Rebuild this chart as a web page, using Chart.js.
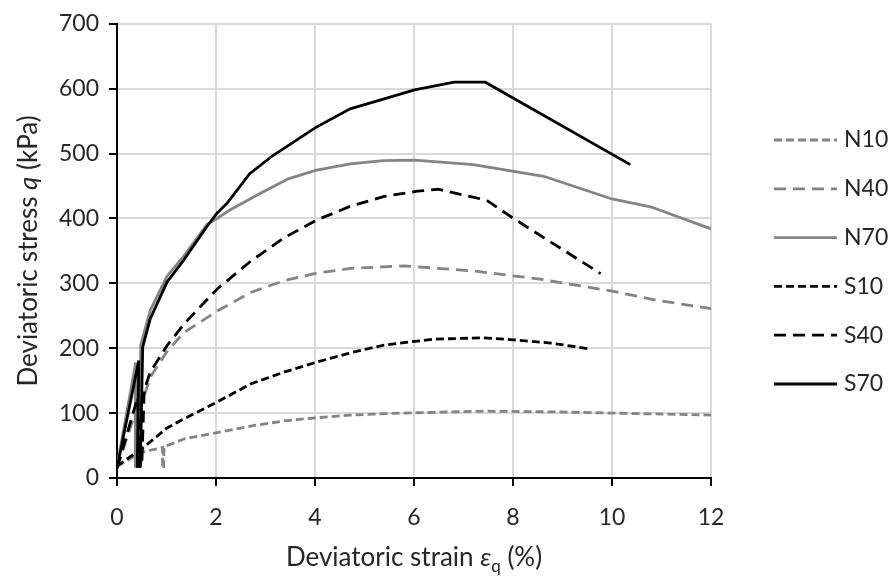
<!DOCTYPE html>
<html>
<head>
<meta charset="utf-8">
<script src="https://cdn.jsdelivr.net/npm/chart.js@4/dist/chart.umd.min.js"></script>
<style>
  html, body { margin: 0; padding: 0; background: #fff; }
  #chart { display: block; }
</style>
</head>
<body>
<canvas id="chart" width="892" height="576"></canvas>
<script>
// séries: deformação desviadora (%) x tensão desviadora (kPa)
const seriesNames = ['N10', 'N40', 'N70', 'S10', 'S40', 'S70'];

const n10Strain = [0, 0.5, 0.87, 0.92, 0.92, 0.94, 0.95, 1.35, 2.02, 2.7, 3.37, 4.05, 4.72, 5.72, 7.41, 8.76, 10.0, 12.0];
const n10Stress = [18, 40, 46, 47, 15, 15, 48, 60, 70, 80, 88, 93, 97, 100, 103, 102, 100, 97];

const n40Strain = [0, 0.38, 0.4, 0.45, 0.5, 0.67, 1.01, 1.35, 2.02, 2.7, 3.37, 4.05, 4.72, 5.8, 7.2, 8.5, 10.0, 10.9, 12.0];
const n40Stress = [15, 103, 18, 18, 115, 155, 195, 224, 257, 286, 304, 316, 323, 327, 319, 307, 288, 274, 261];

const n70Strain = [0, 0.38, 0.37, 0.43, 0.48, 0.67, 1.01, 1.35, 1.82, 2.02, 2.28, 2.88, 3.46, 4.01, 4.71, 5.38, 6.01, 7.2, 8.62, 10.0, 10.78, 12.0];
const n70Stress = [18, 178, 18, 18, 205, 258, 311, 342, 391, 400, 413, 438, 461, 474, 484, 489, 490, 483, 465, 430, 418, 384];

const s10Strain = [0, 0.45, 0.44, 0.47, 0.5, 1.01, 1.35, 2.02, 2.7, 3.37, 4.05, 4.72, 5.4, 6.07, 6.39, 7.41, 8.01, 8.76, 9.55];
const s10Stress = [18, 43, 16, 16, 45, 77, 91, 117, 145, 163, 179, 193, 205, 211, 214, 216, 213, 208, 199];

const s40Strain = [0, 0.42, 0.45, 0.5, 0.55, 0.67, 1.01, 1.35, 2.02, 2.7, 3.37, 4.05, 4.72, 5.4, 6.07, 6.49, 7.47, 8.01, 9.77];
const s40Stress = [15, 125, 18, 18, 135, 163, 204, 237, 291, 334, 370, 398, 419, 434, 442, 445, 428, 400, 315];

const s70Strain = [0, 0.44, 0.41, 0.47, 0.52, 0.67, 1.01, 1.35, 1.82, 2.02, 2.23, 2.68, 3.15, 4.01, 4.71, 5.38, 6.01, 6.81, 7.44, 10.37];
const s70Stress = [15, 181, 18, 18, 202, 245, 302, 336, 388, 408, 424, 469, 497, 540, 569, 584, 598, 610, 610, 483];

const xTicks = [0, 2, 4, 6, 8, 10, 12];
const yTicks = [0, 100, 200, 300, 400, 500, 600, 700];

const FONT = 'Lato, "Open Sans", sans-serif';
const TEXT = '#262626';
const GREY = '#848484';
const SHORT_DASH = [8, 4];
const LONG_DASH = [12, 7];

function toPoints(xs, ys) {
    return xs.map((x, i) => ({ x: x, y: ys[i] }));
}

function makeSeries(name, xs, ys, color, dash, order) {
    return {
        label: name,
        data: toPoints(xs, ys),
        showLine: true,
        borderColor: color,
        backgroundColor: color,
        borderWidth: 2.8,
        borderDash: dash,
        pointRadius: 0,
        tension: 0,
        fill: false,
        order: order
    };
}

// títulos dos eixos (com itálico / subscrito) e legenda à direita
function drawRuns(ctx, runs, cx, cy) {
    let total = 0;
    runs.forEach(r => { ctx.font = r.font; total += ctx.measureText(r.text).width; });
    let x = cx - total / 2;
    runs.forEach(r => {
        ctx.font = r.font;
        ctx.fillText(r.text, x, cy + (r.dy || 0));
        x += ctx.measureText(r.text).width;
    });
}

const decorations = {
    id: 'decorations',
    afterDraw(chart) {
        const ctx = chart.ctx;
        const area = chart.chartArea;
        ctx.save();
        ctx.fillStyle = TEXT;
        ctx.textAlign = 'left';

        const normal = '26px ' + FONT;
        const italic = 'italic 26px ' + FONT;
        const small = '17px ' + FONT;

        ctx.textBaseline = 'alphabetic';
        drawRuns(ctx, [
            { text: 'Deviatoric strain ', font: normal },
            { text: 'ε', font: italic },
            { text: 'q', font: small, dy: 6 },
            { text: ' (%)', font: normal }
        ], (area.left + area.right) / 2, 566);

        ctx.save();
        ctx.translate(37, (area.top + area.bottom) / 2);
        ctx.rotate(-Math.PI / 2);
        drawRuns(ctx, [
            { text: 'Deviatoric stress ', font: normal },
            { text: 'q', font: italic },
            { text: ' (kPa)', font: normal }
        ], 0, 0);
        ctx.restore();

        // legenda
        ctx.textBaseline = 'middle';
        chart.data.datasets.forEach((ds, i) => {
            const y = 140 + i * 48.8;
            ctx.beginPath();
            ctx.strokeStyle = ds.borderColor;
            ctx.lineWidth = ds.borderWidth;
            ctx.setLineDash(ds.borderDash);
            ctx.moveTo(774, y);
            ctx.lineTo(837, y);
            ctx.stroke();
            ctx.setLineDash([]);
            ctx.font = '23px ' + FONT;
            ctx.fillText(ds.label, 844, y);
        });
        ctx.restore();
    }
};

const ctx = document.getElementById('chart').getContext('2d');

new Chart(ctx, {
    type: 'scatter',
    data: {
        datasets: [
            makeSeries(seriesNames[0], n10Strain, n10Stress, GREY, SHORT_DASH, 6),
            makeSeries(seriesNames[1], n40Strain, n40Stress, GREY, LONG_DASH, 5),
            makeSeries(seriesNames[2], n70Strain, n70Stress, GREY, [], 4),
            makeSeries(seriesNames[3], s10Strain, s10Stress, '#000', SHORT_DASH, 3),
            makeSeries(seriesNames[4], s40Strain, s40Stress, '#000', LONG_DASH, 2),
            makeSeries(seriesNames[5], s70Strain, s70Stress, '#000', [], 1)
        ]
    },
    options: {
        responsive: false,
        animation: false,
        devicePixelRatio: 1,
        layout: {
            padding: { left: 0, right: 181, top: 9, bottom: 0 }
        },
        plugins: {
            legend: { display: false },
            tooltip: { enabled: false }
        },
        scales: {
            x: {
                type: 'linear',
                min: xTicks[0],
                max: xTicks[xTicks.length - 1],
                afterBuildTicks: axis => { axis.ticks = xTicks.map(v => ({ value: v })); },
                afterFit: axis => { axis.height = 98; },
                ticks: { color: TEXT, font: { family: FONT, size: 23 }, padding: 18 },
                grid: { color: '#d9d9d9', lineWidth: 2, tickColor: '#000', tickLength: 8, tickWidth: 2 },
                border: { color: '#000', width: 2 }
            },
            y: {
                type: 'linear',
                min: yTicks[0],
                max: yTicks[yTicks.length - 1],
                afterBuildTicks: axis => { axis.ticks = yTicks.map(v => ({ value: v })); },
                afterFit: axis => { axis.width = 117; },
                ticks: { color: TEXT, font: { family: FONT, size: 23 }, padding: 10 },
                grid: { color: '#d9d9d9', lineWidth: 2, tickColor: '#000', tickLength: 8, tickWidth: 2 },
                border: { color: '#000', width: 2 }
            }
        }
    },
    plugins: [decorations]
});
</script>
</body>
</html>
